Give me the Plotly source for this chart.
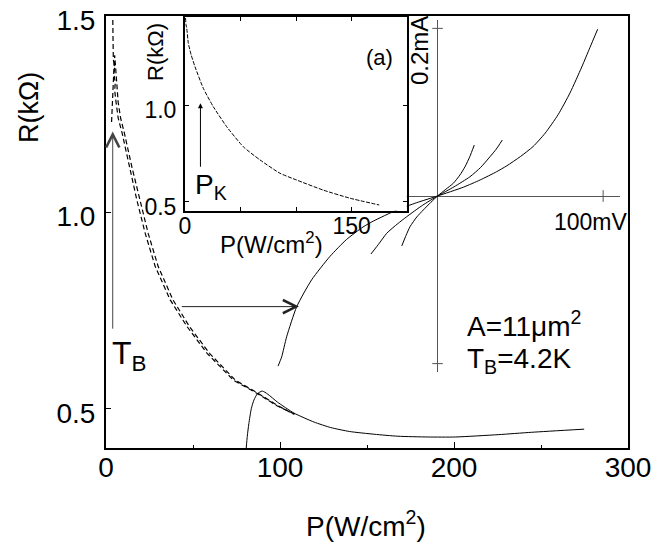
import plotly.graph_objects as go

# ---------------- data ----------------
# main panel: R(kOhm) vs P(W/cm^2)
dash_a_p = [3.9, 4.0, 4.5, 4.2, 4.9, 4.6, 5.3, 5.0, 5.8, 7.0, 9.2, 13.4, 17.7, 22.5, 28.3, 36.9, 46.6, 58.1, 73.4, 86.9, 98.5, 110]
dash_a_r = [1.49, 1.45, 1.42, 1.39, 1.37, 1.35, 1.33, 1.31, 1.28, 1.24, 1.203, 1.117, 1.032, 0.947, 0.862, 0.777, 0.709, 0.641, 0.572, 0.539, 0.507, 0.483]
dash_b_p = [3.2, 3.5, 3.8, 4.4, 5.0, 5.5, 6.2, 7.0, 8.4, 10.5, 14.8, 19.3, 24.2, 30.0, 38.5, 48.0, 59.5, 74.5, 87.5, 99.0, 108]
dash_b_r = [1.23, 1.27, 1.31, 1.35, 1.40, 1.37, 1.32, 1.28, 1.24, 1.203, 1.117, 1.032, 0.947, 0.862, 0.777, 0.709, 0.641, 0.572, 0.539, 0.507, 0.486]
solid_p = [80.6, 81.2, 82.1, 83.5, 85.0, 87.0, 89.8, 93.0, 98.5, 108, 119.6, 129.2, 140, 154.2, 167.7, 185, 200.8, 225.4, 244.6, 274.8]
solid_r = [0.40, 0.43, 0.462, 0.50, 0.522, 0.538, 0.545, 0.537, 0.517, 0.489, 0.466, 0.452, 0.442, 0.435, 0.430, 0.428, 0.428, 0.434, 0.440, 0.448]

# inset (a): R vs P
inset_p = [0.5, 0.9, 1.5, 3.0, 5.5, 9.0, 16.5, 25.5, 37.5, 52.5, 67.5, 85.5, 100.5, 124.4, 148.5, 174.8]
inset_r = [1.45, 1.414, 1.40, 1.319, 1.26, 1.198, 1.086, 0.991, 0.888, 0.784, 0.716, 0.647, 0.612, 0.560, 0.518, 0.483]

# I-V curves: V (mV), I (mA)
iv1_v = [-96.3, -94.1, -91.1, -85.0, -76.0, -64.9, -55.0, -45.0, -38.8, -24.6, -12.6, 0, 15.6, 25.7, 35.7, 41.8, 50.0, 57.7, 65.0, 72.8, 80.0, 87.1, 92.0, 96.7]
iv1_i = [-0.203, -0.192, -0.168, -0.132, -0.100, -0.072, -0.052, -0.037, -0.030, -0.0167, -0.008, 0, 0.0105, 0.0191, 0.029, 0.036, 0.047, 0.059, 0.075, 0.097, 0.123, 0.154, 0.177, 0.199]
iv2_v = [-40.2, -35.0, -30.7, -24.0, -18.6, -9.0, 0, 10.0, 19.6, 26.0, 31.7, 35.5, 39.1]
iv2_i = [-0.0692, -0.056, -0.0445, -0.033, -0.0247, -0.011, 0, 0.011, 0.023, 0.034, 0.0469, 0.056, 0.0668]
iv3_v = [-21.6, -19.0, -16.6, -12.5, -8.6, -4.0, 0, 5.0, 9.5, 13.5, 16.6, 19.5, 22.2]
iv3_i = [-0.0596, -0.047, -0.0366, -0.025, -0.0167, -0.0075, 0, 0.008, 0.0151, 0.025, 0.0349, 0.047, 0.0608]

main_xticks = [0, 100, 200, 300]
main_xminor = [50, 150, 250]
main_yticks = [0.5, 1.0, 1.5]
main_ytext = ["0.5", "1.0", "1.5"]
inset_xticks = [0, 150]
inset_xminor = [50, 100]
inset_yticks = [0.5, 1.0]
inset_ytext = ["0.5", "1.0"]

# ---------------- layout helpers ----------------
# The page body has an 8px margin, so the figure is drawn 8px smaller
# and every window-pixel position is shifted by that offset.
OFF = 8
WIN_W, WIN_H = 667, 543
W, H = WIN_W - OFF, WIN_H - OFF
# plot area in window pixels: x 106..628, y 16..448
PL, PR, PT, PB = 106, 628, 16, 448
ML, MR, MT, MB = PL - OFF, WIN_W - PR, PT - OFF, WIN_H - PB
PW = PR - PL
PH = PB - PT


def fx(x):
    return (x - PL) / PW


def fy(y):
    return (PB - y) / PH


FONT = "Liberation Sans, Arial, sans-serif"
BLACK = "black"

fig = go.Figure()

# main panel
fig.add_trace(go.Scatter(x=dash_a_p, y=dash_a_r, mode="lines", xaxis="x", yaxis="y",
                         line=dict(color=BLACK, width=1.2, dash="5px,3px")))
fig.add_trace(go.Scatter(x=dash_b_p, y=dash_b_r, mode="lines", xaxis="x", yaxis="y",
                         line=dict(color=BLACK, width=1.2, dash="5px,3px")))
fig.add_trace(go.Scatter(x=solid_p, y=solid_r, mode="lines", xaxis="x", yaxis="y",
                         line=dict(color=BLACK, width=1, shape="spline", smoothing=0.6)))

# I-V panel
for v, i in ((iv1_v, iv1_i), (iv2_v, iv2_i), (iv3_v, iv3_i)):
    fig.add_trace(go.Scatter(x=v, y=i, mode="lines", xaxis="x2", yaxis="y2",
                             line=dict(color=BLACK, width=1, shape="spline", smoothing=0.6)))

# inset (a)
fig.add_trace(go.Scatter(x=inset_p, y=inset_r, mode="lines", xaxis="x3", yaxis="y3",
                         line=dict(color=BLACK, width=1, dash="4px,1.5px", shape="spline", smoothing=0.5)))

axis_common = dict(showgrid=False, zeroline=False, showline=True, linecolor=BLACK,
                   linewidth=2, ticks="inside", tickcolor=BLACK, tickwidth=1,
                   automargin=False, ticklabeloverflow="allow")

fig.update_layout(
    template="none",
    width=W, height=H,
    margin=dict(l=ML, r=MR, t=MT, b=MB, pad=0, autoexpand=False),
    paper_bgcolor="white", plot_bgcolor="white",
    showlegend=False,
    font=dict(family=FONT, color=BLACK),
    xaxis=dict(axis_common, domain=[0, 1], range=[0, 300], anchor="y", mirror=True,
               tickvals=main_xticks, ticklen=6, tickfont=dict(size=28),
               ticklabelstandoff=-7,
               minor=dict(tickvals=main_xminor, ticks="inside", ticklen=3, tickcolor=BLACK)),
    yaxis=dict(axis_common, domain=[0, 1], range=[0.4, 1.5], anchor="x", mirror=True,
               tickvals=main_yticks, ticktext=main_ytext, ticklen=5, tickfont=dict(size=28),
               ticklabelstandoff=3, ticklabelshift=4),
    xaxis2=dict(domain=[fx(271.9), fx(619.7)], range=[-100, 110], anchor="y2",
                showgrid=False, showline=False, showticklabels=False, ticks="",
                zeroline=True, zerolinecolor="#555", zerolinewidth=1, automargin=False),
    yaxis2=dict(domain=[fy(372), fy(20)], range=[-0.21, 0.21], anchor="x2",
                showgrid=False, showline=False, showticklabels=False, ticks="",
                zeroline=True, zerolinecolor="#555", zerolinewidth=1, automargin=False),
    xaxis3=dict(axis_common, domain=[fx(185), fx(406.7)], range=[0, 199.5], anchor="y3",
                mirror="ticks", tickvals=inset_xticks, ticklen=4,
                minor=dict(tickvals=inset_xminor, ticks="inside", ticklen=4, tickcolor=BLACK),
                tickfont=dict(size=23), ticklabelstandoff=-6),
    yaxis3=dict(axis_common, domain=[fy(210.7), fy(16.7)], range=[0.4535, 1.4566], anchor="x3",
                mirror="ticks", tickvals=inset_yticks, ticktext=inset_ytext, ticklen=4,
                tickfont=dict(size=23), ticklabelstandoff=2, ticklabelshift=5),
)

# small "+" ticks on the I-V axes
shapes = [
    dict(type="line", xref="x2", yref="y2", x0=100, x1=100, y0=-0.007, y1=0.007,
         line=dict(color="#555", width=1)),
    dict(type="line", xref="x2", yref="y2", x0=-3.2, x1=3.2, y0=0.2, y1=0.2,
         line=dict(color="#555", width=1)),
    dict(type="line", xref="x2", yref="y2", x0=-3.2, x1=3.2, y0=-0.2, y1=-0.2,
         line=dict(color="#555", width=1)),
]
fig.update_layout(shapes=shapes)


def txt(text, x, y, size, xanchor="center", yanchor="middle", angle=0):
    return dict(text=text, x=fx(x), y=fy(y), xref="paper", yref="paper",
                xanchor=xanchor, yanchor=yanchor, showarrow=False, textangle=angle,
                font=dict(size=size, family=FONT, color=BLACK))


annotations = [
    txt("R(kΩ)", 29, 108, 27, angle=-90),
    txt("P(W/cm<sup>2</sup>)", 366, 524, 28),
    txt("T<sub>B</sub>", 110, 355, 32, xanchor="left"),
    txt("A=11μm<sup>2</sup>", 465, 324, 28, xanchor="left"),
    txt("T<sub>B</sub>=4.2K", 465, 360, 28, xanchor="left"),
    txt("0.2mA", 420, 51, 24, angle=-90),
    txt("100mV", 591, 222, 23),
    txt("(a)", 379, 57, 22),
    txt("P<sub>K</sub>", 193, 186, 28, xanchor="left"),
    txt("R(kΩ)", 155, 52, 22, angle=-90),
    txt("P(W/cm<sup>2</sup>)", 271, 243, 24),
    # arrows
    dict(text="", xref="x", yref="y", axref="x", ayref="y",
         x=3.87, y=1.206, ax=3.87, ay=0.70, showarrow=True,
         arrowhead=5, arrowsize=2.6, arrowwidth=1, arrowcolor="#444", standoff=0),
    dict(text="", xref="x", yref="y", axref="x", ayref="y",
         x=110.9, y=0.760, ax=42.7, ay=0.760, showarrow=True,
         arrowhead=5, arrowsize=2.6, arrowwidth=1, arrowcolor="#222", standoff=0),
    dict(text="", xref="x3", yref="y3", axref="x3", ayref="y3",
         x=13.9, y=1.009, ax=13.9, ay=0.673, showarrow=True,
         arrowhead=2, arrowsize=1, arrowwidth=1, arrowcolor=BLACK, standoff=0),
]
fig.update_layout(annotations=annotations)

fig.write_html("out.html")
